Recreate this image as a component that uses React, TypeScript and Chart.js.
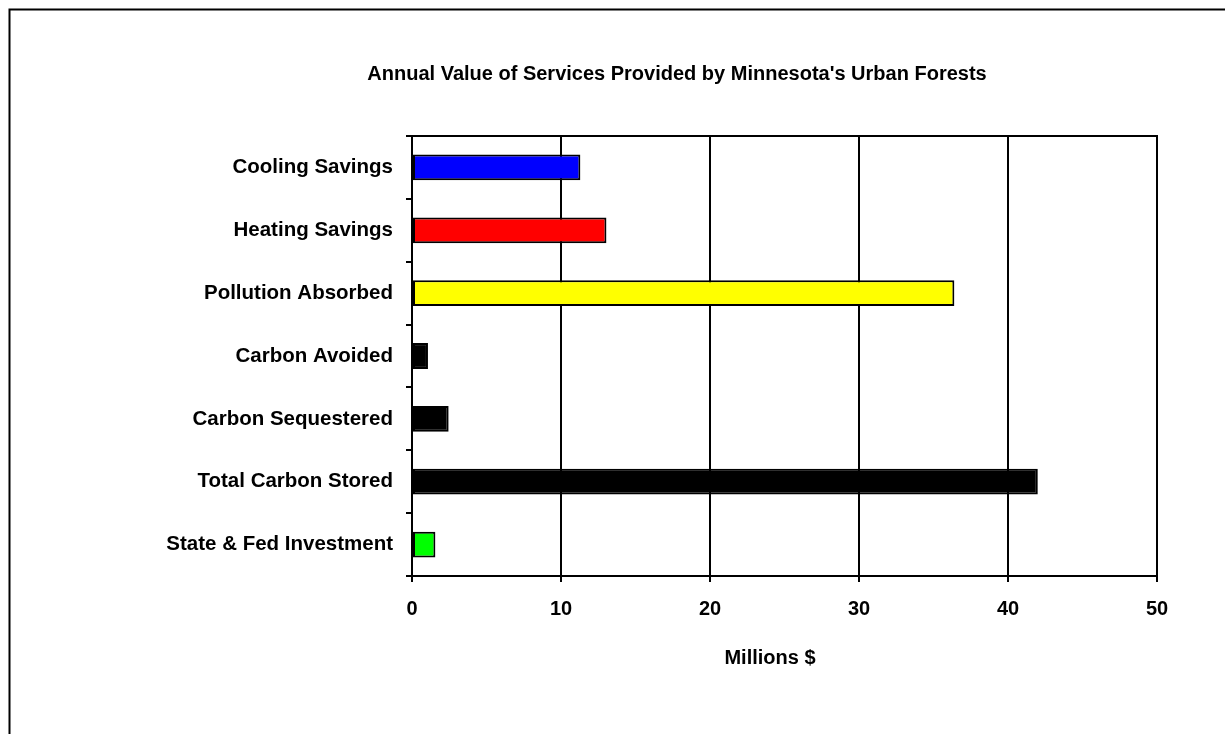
import React, { useEffect, useRef } from "react";
import { Chart, registerables } from "chart.js";

Chart.register(...registerables);

const categories = [
  "Cooling Savings",
  "Heating Savings",
  "Pollution Absorbed",
  "Carbon Avoided",
  "Carbon Sequestered",
  "Total Carbon Stored",
  "State & Fed Investment",
];
const values = [11.3, 13.05, 36.4, 1.07, 2.46, 42.0, 1.57];
const barColors = ["#0000FF", "#FF0000", "#FFFF00", "#000000", "#000000", "#000000", "#00FF00"];
const xTicks = [0, 10, 20, 30, 40, 50];
const titleText = "Annual Value of Services Provided by Minnesota's Urban Forests";
const xTitle = "Millions $";

const FONT = "'Liberation Sans', Arial, sans-serif";

const framePlugin = {
  id: "frame",
  afterDraw(chart: any) {
    const { ctx, chartArea } = chart;
    ctx.save();
    ctx.strokeStyle = "#000";
    ctx.lineWidth = 2;
    ctx.strokeRect(chartArea.left, chartArea.top, chartArea.right - chartArea.left, chartArea.bottom - chartArea.top);
    ctx.strokeRect(9.5, 9.5, 1300, 800);
    ctx.fillStyle = "#000";
    ctx.textAlign = "center";
    ctx.textBaseline = "middle";
    ctx.font = `bold 20px ${FONT}`;
    ctx.fillText(titleText, 677, 74);
    ctx.fillText(xTitle, 770, 658);
    ctx.restore();
  },
};

export default function App() {
  const ref = useRef<HTMLCanvasElement>(null);
  useEffect(() => {
    document.body.style.margin = "0";
    const chart = new Chart(ref.current!, {
      type: "bar",
      data: {
        labels: categories,
        datasets: [
          {
            data: values,
            backgroundColor: barColors,
            borderColor: "#000",
            borderWidth: 2,
            borderSkipped: false,
            barPercentage: 0.41,
            categoryPercentage: 1,
          },
        ],
      },
      options: {
        indexAxis: "y",
        animation: false,
        responsive: false,
        maintainAspectRatio: false,
        layout: { padding: { left: 0, right: 68, top: 136, bottom: 0 } },
        plugins: {
          legend: { display: false },
          tooltip: { enabled: false },
          title: { display: false },
        },
        scales: {
          x: {
            type: "linear",
            min: 0,
            max: 50,
            afterBuildTicks: (s: any) => {
              s.ticks = xTicks.map((v) => ({ value: v }));
            },
            afterFit: (s: any) => {
              s.height = 734 - 576;
            },
            grid: { color: "#000", lineWidth: 2, tickLength: 6, drawTicks: true },
            border: { color: "#000", width: 2 },
            ticks: {
              color: "#000",
              padding: 15,
              font: { family: FONT, size: 20, weight: "bold" },
            },
          },
          y: {
            type: "category",
            afterFit: (s: any) => {
              s.width = 412;
            },
            grid: { color: "#000", lineWidth: 2, offset: true, drawOnChartArea: false, tickLength: 6 },
            border: { color: "#000", width: 2 },
            ticks: {
              color: "#000",
              padding: 13,
              font: { family: FONT, size: 20.5, weight: "bold" },
            },
          },
        },
      },
      plugins: [framePlugin],
    } as any);
    return () => chart.destroy();
  }, []);
  return <canvas ref={ref} width={1225} height={734} style={{ display: "block" }} />;
}
